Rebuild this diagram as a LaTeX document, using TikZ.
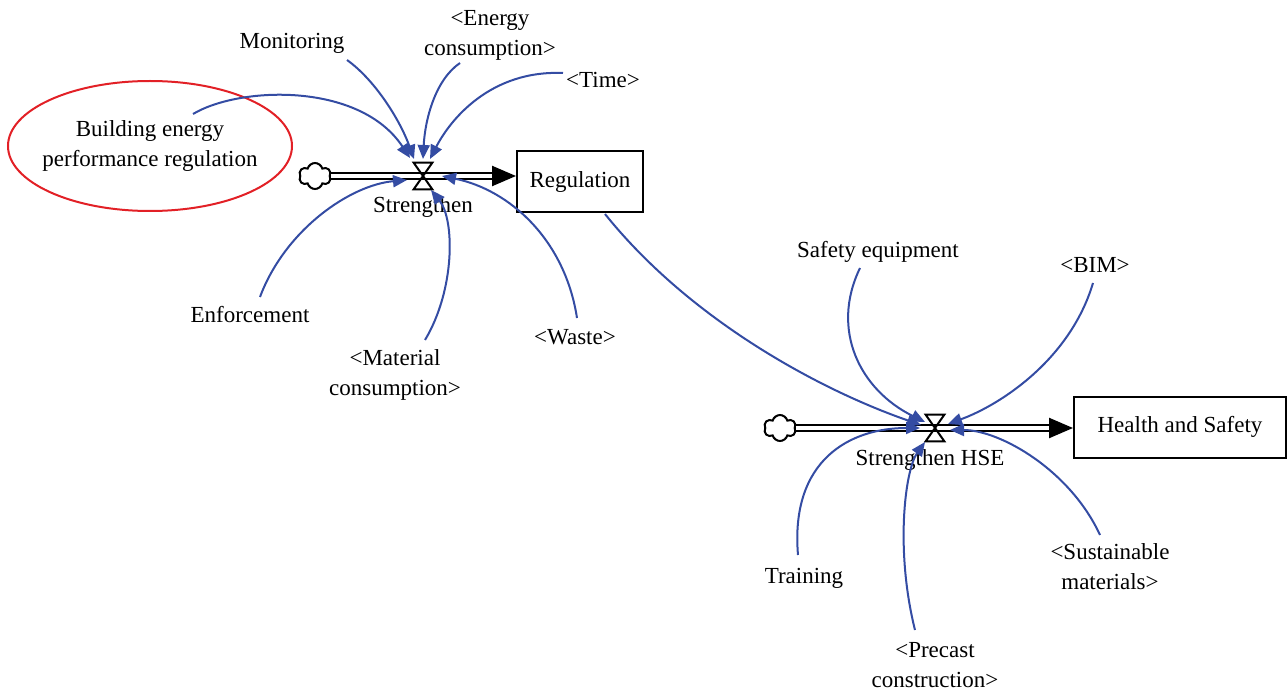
\documentclass[tikz,border=0pt]{standalone}
\usepackage{fontspec}
\setmainfont{Liberation Serif}
\usetikzlibrary{arrows.meta,shapes.geometric,shapes.symbols}
\definecolor{linkblue}{RGB}{52,76,163}
\definecolor{markred}{RGB}{226,32,38}
\begin{document}
\begin{tikzpicture}[%
    x=0.5pt, y=-0.5pt,
    every node/.style={font=\fontsize{11.5}{15}\selectfont, align=center},
    link/.style={draw=linkblue, line width=1pt, -{Triangle[length=7pt,width=6pt]}},
    pipe/.style={double, double distance=2pt, line width=1.2pt,
      -{Triangle[length=12pt,width=10pt]}},
    stock/.style={draw, line width=1pt, minimum width=63pt, minimum height=30.5pt},
    valve/.style={inner sep=0pt, minimum width=9pt, minimum height=13pt},
    source/.style={cloud, cloud puffs=6, aspect=1.2, draw, line width=1pt,
      minimum width=16pt, minimum height=13pt, inner sep=0pt}]
  \useasboundingbox (0,0) rectangle (1287,690);

  % first flow
  \node [source] (c1) at (315,176) {};
  \node [valve] (v1) at (423,176) {};
  \node [stock] (reg) at (580,182) {Regulation};
  \node (str) at (423,207) {Strengthen};
  \draw [pipe] (c1.east) -- (c1.east -| reg.west);
  \draw [line width=1pt] (v1.north west) -- (v1.north east) -- (v1.south west)
    -- (v1.south east) -- cycle;

  % second flow
  \node [source] (c2) at (780,428) {};
  \node [valve] (v2) at (935,428) {};
  \node [stock, minimum width=106pt] (hs) at (1180,427) {Health and Safety};
  \node (strh) at (930,460) {Strengthen HSE};
  \draw [pipe] (c2.east) -- (c2.east -| hs.west);
  \draw [line width=1pt] (v2.north west) -- (v2.north east) -- (v2.south west)
    -- (v2.south east) -- cycle;

  \node [ellipse, draw=markred, line width=1pt, minimum width=142pt,
    minimum height=65pt, inner xsep=-6pt, inner ysep=0pt] (bepr) at (150,146)
    {Building energy\\performance regulation};
  \node (mon) at (292,43) {Monitoring};
  \node (ene) at (490,35) {<Energy\\consumption>};
  \node (time) at (603,80) {<Time>};
  \node (enf) at (250,315) {Enforcement};
  \node (mat) at (395,375) {<Material\\consumption>};
  \node (waste) at (575,337) {<Waste>};

  \node (saf) at (878,252) {Safety equipment};
  \node (bim) at (1095,265) {<BIM>};
  \node (tra) at (804,578) {Training};
  \node (sus) at (1110,567) {<Sustainable\\materials>};
  \node (pre) at (935,665) {<Precast\\construction>};

  \draw [link] ([shift={(43,-32)}]bepr.center) .. controls (240,86) and (360,82)
    .. ([shift={(-13,-18)}]v1.center);
  \draw [link] ([shift={(55,17)}]mon.center) .. controls (375,80) and (400,120)
    .. ([shift={(-9,-17)}]v1.center);
  \draw [link] ([shift={(-30,28)}]ene.center) .. controls (435,80) and (425,120)
    .. ([shift={(0,-17)}]v1.center);
  \draw [link] ([shift={(-40,-7)}]time.center) .. controls (490,70) and (450,120)
    .. ([shift={(7,-17)}]v1.center);
  \draw [link] ([shift={(10,-18)}]enf.center) .. controls (285,230) and (350,185)
    .. ([shift={(-16,4)}]v1.center);
  \draw [link] ([shift={(30,-35)}]mat.center) .. controls (455,290) and (455,220)
    .. ([shift={(8,14)}]v1.center);
  \draw [link] ([shift={(2,-19)}]waste.center) .. controls (565,240) and (510,190)
    .. ([shift={(19,0)}]v1.center);

  \draw [link] ([shift={(25,32)}]reg.center) .. controls (690,320) and (820,390)
    .. ([shift={(-14,-3)}]v2.center);
  \draw [link] ([shift={(-18,16)}]saf.center) .. controls (830,330) and (860,390)
    .. ([shift={(-10,-6)}]v2.center);
  \draw [link] ([shift={(-2,18)}]bim.center) .. controls (1070,360) and (1000,405)
    .. ([shift={(13,-4)}]v2.center);
  \draw [link] ([shift={(-6,-23)}]tra.center) .. controls (790,460) and (850,428)
    .. ([shift={(-15,0)}]v2.center);
  \draw [link] ([shift={(-20,-35)}]pre.center) .. controls (895,550) and (905,470)
    .. ([shift={(-10,14)}]v2.center);
  \draw [link] ([shift={(-10,-32)}]sus.center) .. controls (1070,470) and (1000,430)
    .. ([shift={(15,2)}]v2.center);
\end{tikzpicture}
\end{document}
